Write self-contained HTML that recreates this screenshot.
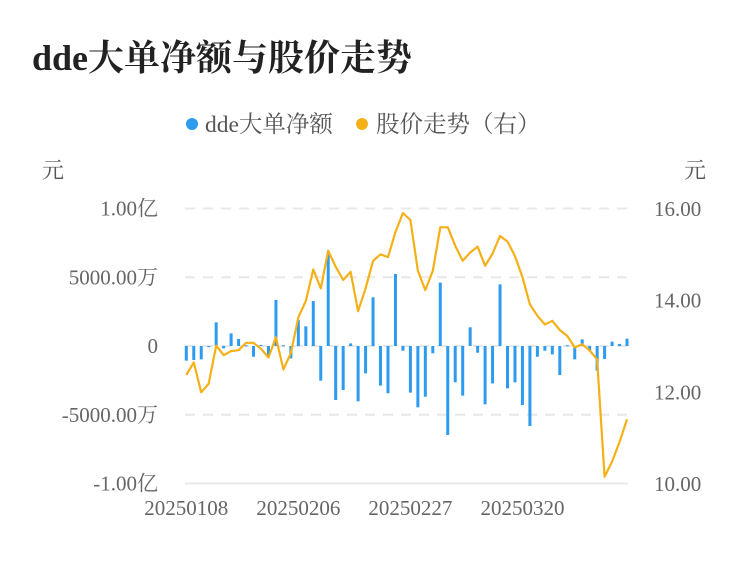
<!DOCTYPE html>
<html><head><meta charset="utf-8"><style>
body{margin:0;background:#fff;}
svg text{font-family:"Liberation Serif","Noto Serif CJK SC",serif;}
</style></head><body>
<svg width="750" height="558" viewBox="0 0 750 558" xmlns="http://www.w3.org/2000/svg">
<text x="32" y="70" font-size="36" font-weight="bold" fill="#222">dde大单净额与股价走势</text>
<g>
<g><circle cx="192" cy="124" r="6" fill="#2d9bf0"/><text x="205" y="132" font-size="23.5" fill="#555">dde大单净额</text></g>
<g><circle cx="362" cy="124" r="6" fill="#f5b018"/><text x="376" y="132" font-size="23.5" fill="#555">股价走势（右）</text></g>
</g>
<text x="42" y="178" font-size="22" fill="#555">元</text>
<text x="684" y="178" font-size="22" fill="#555">元</text>
<g id="grid"></g><g id="bars"></g><g id="line"></g><g id="axes"></g>
</svg>
<script>
const dates=["20250108","20250109","20250110","20250113","20250114","20250115","20250116","20250117","20250120","20250121","20250122","20250123","20250124","20250127","20250205","20250206","20250207","20250210","20250211","20250212","20250213","20250214","20250217","20250218","20250219","20250220","20250221","20250224","20250225","20250226","20250227","20250228","20250303","20250304","20250305","20250306","20250307","20250310","20250311","20250312","20250313","20250314","20250317","20250318","20250319","20250320","20250321","20250324","20250325","20250326","20250327","20250328","20250331","20250401","20250402","20250403","20250407","20250408","20250409","20250410"];
const ddeWan=[-1067,-1020,-970,-80,1720,-170,920,510,50,-780,70,-650,3350,50,-900,1890,1430,3270,-2520,6860,-3930,-3200,190,-4020,-1990,3540,-2880,-3440,5240,-340,-3390,-4460,-3690,-530,4610,-6470,-2640,-3610,1360,-490,-4240,-2720,4480,-3080,-2640,-4290,-5820,-780,-340,-610,-2110,50,-970,480,-340,-1790,-950,320,150,530];
const price=[12.38,12.65,12.0,12.19,13.02,12.81,12.9,12.92,13.08,13.08,12.95,12.76,13.2,12.5,12.86,13.64,13.99,14.68,14.27,15.09,14.74,14.45,14.63,13.77,14.27,14.87,15.01,14.95,15.5,15.91,15.76,14.65,14.23,14.65,15.6,15.6,15.2,14.87,15.05,15.18,14.76,15.03,15.41,15.29,14.97,14.51,13.92,13.67,13.48,13.56,13.36,13.23,12.98,13.05,12.91,12.72,10.16,10.49,10.92,11.41];
const leftTicks=[10000,5000,0,-5000,-10000];
const leftLabels=["1.00亿","5000.00万","0","-5000.00万","-1.00亿"];
const rightTicks=[16,14,12,10];
const rightLabels=["16.00","14.00","12.00","10.00"];
const NS="http://www.w3.org/2000/svg";
const x0=186.3,step=7.47,yTop=209,yBot=484;
const xs=i=>x0+i*step;
const yL=v=>346-(v/10000)*137.5;
const yR=v=>yTop+(16-v)*(yBot-yTop)/6;
function mk(tag,attrs,parent){const e=document.createElementNS(NS,tag);for(const k in attrs)e.setAttribute(k,attrs[k]);parent.appendChild(e);return e;}
const grid=document.getElementById('grid'),axes=document.getElementById('axes');
leftTicks.forEach((t,i)=>{
  const y=yL(t);
  const g=mk('line',{x1:185,x2:628,y1:y,y2:y,stroke:'#e8e8e8','stroke-width':2,'stroke-dasharray':i==4?'none':'10,8'},grid);
  
  
  const tx=mk('text',{x:158,y:y+7,'text-anchor':'end','font-size':21,fill:'#666'},axes);
  tx.textContent=leftLabels[i];
  
  
});
rightTicks.forEach((t,i)=>{
  const tx=mk('text',{x:654,y:yR(t)+7,'font-size':21,fill:'#666'},axes);
  tx.textContent=rightLabels[i];
  
  
});
dates.forEach((d,i)=>{if(i%15===0){
  const tx=mk('text',{x:xs(i),y:515,'text-anchor':'middle','font-size':21,fill:'#666'},axes);
  tx.textContent=d;
  
  
}});
const bars=document.getElementById('bars');
ddeWan.forEach((v,i)=>{
  const y=yL(v),y0=yL(0);
  const r=mk('rect',{x:xs(i)-1.5,y:Math.min(y,y0),width:3,height:Math.max(Math.abs(y-y0),1),fill:'#2d9bf0'},bars);
  
  
});
const pts=price.map((p,i)=>xs(i).toFixed(1)+','+yR(p).toFixed(1)).join(' ');
const pl=mk('polyline',{points:pts,fill:'none',stroke:'#f5b018','stroke-width':2.2,'stroke-linejoin':'round'},document.getElementById('line'));


</script>
</body></html>
